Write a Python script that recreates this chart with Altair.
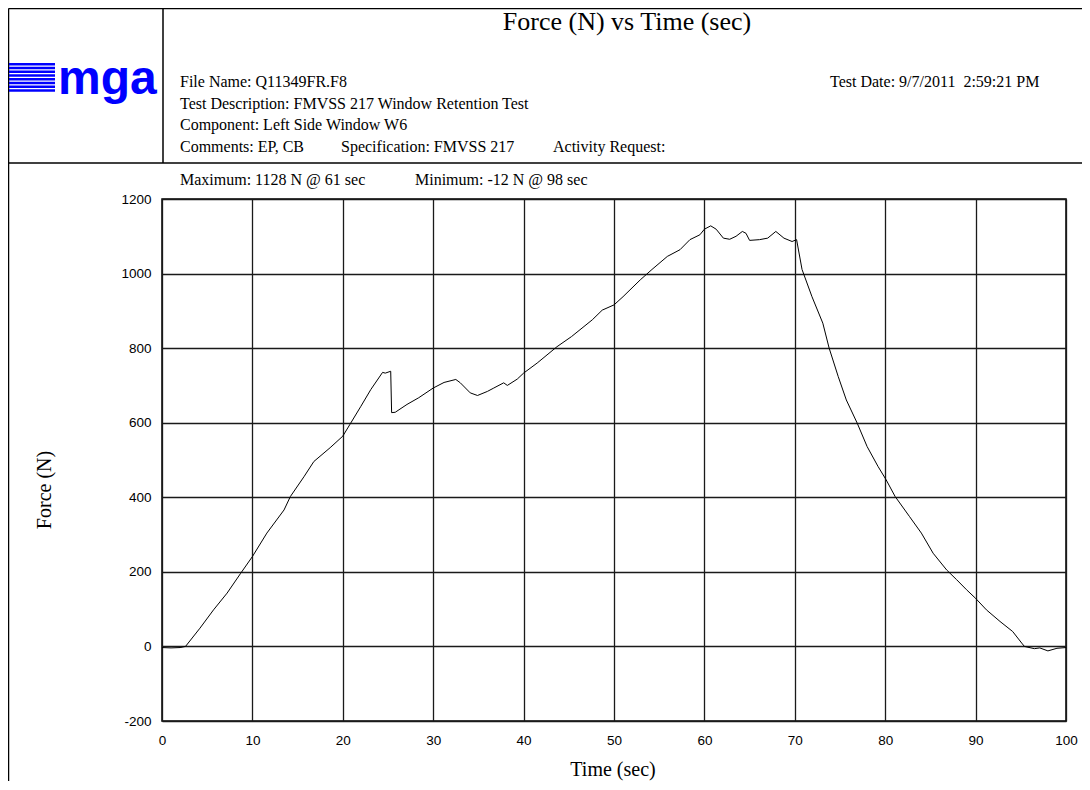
import altair as alt
import pandas as pd

# ---- data ----
time_sec = [0, 1, 2, 2.6, 4.2, 5.7, 7.2, 8.7, 10, 11.6, 13.5, 14.2, 15.7, 16.8, 18.6,
            20, 20.8, 22, 23.1, 24.4, 24.7, 25.3, 25.4, 25.8, 27.1, 28.4, 30, 31.2,
            32.5, 33, 34.1, 34.9, 36, 36.7, 37.8, 38.2, 39.3, 40, 41.5, 43.7, 45.3,
            47.6, 48.7, 50, 51, 52.9, 54.2, 55.9, 57.3, 58.4, 59.5, 60, 60.7, 61.3,
            62.1, 62.8, 63.5, 64.2, 64.6, 65, 66.1, 67, 67.9, 68.8, 69.7, 70.2, 70.8,
            71.9, 73.1, 73.8, 74.8, 75.7, 76.9, 78, 79.2, 80.1, 81.1, 82.7, 84, 85.3,
            86.8, 87.9, 89, 90, 91.2, 92.7, 94.1, 95.1, 95.4, 96.5, 97.1, 98, 99, 100]
force_n = [-3, -4, -3, 0, 49, 98, 143, 196, 241, 304, 366, 402, 455, 496, 533,
           564, 596, 644, 689, 735, 733, 738, 627, 628, 649, 667, 693, 708,
           716, 707, 680, 673, 684, 693, 707, 700, 717, 733, 760, 804, 831,
           876, 902, 916, 938, 983, 1011, 1046, 1064, 1091, 1104, 1119, 1128, 1119,
           1095, 1092, 1100, 1113, 1108, 1089, 1091, 1095, 1113, 1095, 1086, 1091, 1011,
           938, 867, 800, 724, 661, 599, 536, 483, 447, 402, 348, 304, 250,
           205, 179, 152, 129, 98, 67, 40, 9, 0, -6, -4, -12, -5, -3]

x_ticks = [0, 10, 20, 30, 40, 50, 60, 70, 80, 90, 100]
y_ticks = [-200, 0, 200, 400, 600, 800, 1000, 1200]

title_text = "Force (N) vs Time (sec)"
header_lines = ["File Name: Q11349FR.F8",
                "Test Description: FMVSS 217 Window Retention Test",
                "Component: Left Side Window W6",
                "Comments: EP, CB"]
spec_text = "Specification: FMVSS 217"
activity_text = "Activity Request:"
date_text = "Test Date: 9/7/2011 \u00a02:59:21 PM"
max_text = "Maximum: 1128 N @ 61 sec"
min_text = "Minimum: -12 N @ 98 sec"
x_title = "Time (sec)"
y_title = "Force (N)"
logo_text = "mga"

df = pd.DataFrame({"t": time_sec, "F": force_n})
one = pd.DataFrame({"k": [0]})

SERIF = "Liberation Serif, Times New Roman, serif"
SANS = "Liberation Sans, Arial, sans-serif"

W, H = 904, 522
# plot origin on page is (162, 199)
def px(x):
    return x - 162
def py(y):
    return y - 199

GRID = dict(grid=True, gridColor="#1a1a1a", gridWidth=1.3, gridOpacity=1,
            ticks=False, domain=False, labelFont=SANS, labelFontSize=13.5,
            labelColor="black", labelExpr="'' + datum.value", title=None)

line = alt.Chart(df).mark_line(color="black", strokeWidth=1).encode(
    x=alt.X("t:Q", scale=alt.Scale(domain=[0, 100], nice=False),
            axis=alt.Axis(values=x_ticks, labelPadding=12, labelFlush=False, **GRID)),
    y=alt.Y("F:Q", scale=alt.Scale(domain=[-200, 1200], nice=False),
            axis=alt.Axis(values=y_ticks, labelPadding=11, **GRID)),
)

def txt(s, x, y, size=14, align="left", font=SERIF, angle=0, color="black",
        weight="normal", baseline="middle"):
    return alt.Chart(one).mark_text(
        text=s, align=align, baseline=baseline, font=font, fontSize=size,
        angle=angle, color=color, fontWeight=weight
    ).encode(x=alt.value(x), y=alt.value(y))

def rule(x1, y1, x2, y2, w=1.5, color="black"):
    return alt.Chart(one).mark_rule(color=color, strokeWidth=w).encode(
        x=alt.value(x1), y=alt.value(y1), x2=alt.value(x2), y2=alt.value(y2))

layers = [line]
# frame
layers.append(rule(px(8.5), py(8.5), 920, py(8.5)))
layers.append(rule(px(8.5), py(8.5), px(8.5), 583))
layers.append(rule(px(8), py(163), 920, py(163)))
layers.append(rule(px(163), py(8.5), px(163), py(163)))
# logo stripes
for i in range(8):
    yy = py(64.3 + i * 3.75)
    layers.append(rule(px(9), yy, px(55), yy, w=2.5, color="#0000ff"))
layers.append(txt(logo_text, px(58), py(94), size=48,
                  font="Liberation Sans Narrow, Liberation Sans, sans-serif",
                  color="#0000ff", weight="bold", baseline="alphabetic"))
# header
layers.append(txt(title_text, px(627), py(22), size=26, align="center"))
for i, s in enumerate(header_lines):
    layers.append(txt(s, px(180), py(82 + i * 21.7), size=16))
layers.append(txt(spec_text, px(341), py(147), size=16))
layers.append(txt(activity_text, px(553), py(147), size=16))
layers.append(txt(date_text, px(830), py(82), size=16))
layers.append(txt(max_text, px(180), py(180), size=16))
layers.append(txt(min_text, px(415), py(180), size=16))
# axis titles
layers.append(txt(x_title, px(613), py(770), size=20, align="center"))
layers.append(txt(y_title, px(45), py(490), size=20, align="center", angle=270))

chart = alt.layer(*layers).properties(
    width=W, height=H,
    background="white",
    autosize=alt.AutoSizeParams(type="none"),
    padding={"left": 154, "top": 191, "right": 16, "bottom": 60},
).configure_view(stroke="black", strokeWidth=1.5)

chart.save("out.html", embed_options={"renderer": "svg", "actions": False})
